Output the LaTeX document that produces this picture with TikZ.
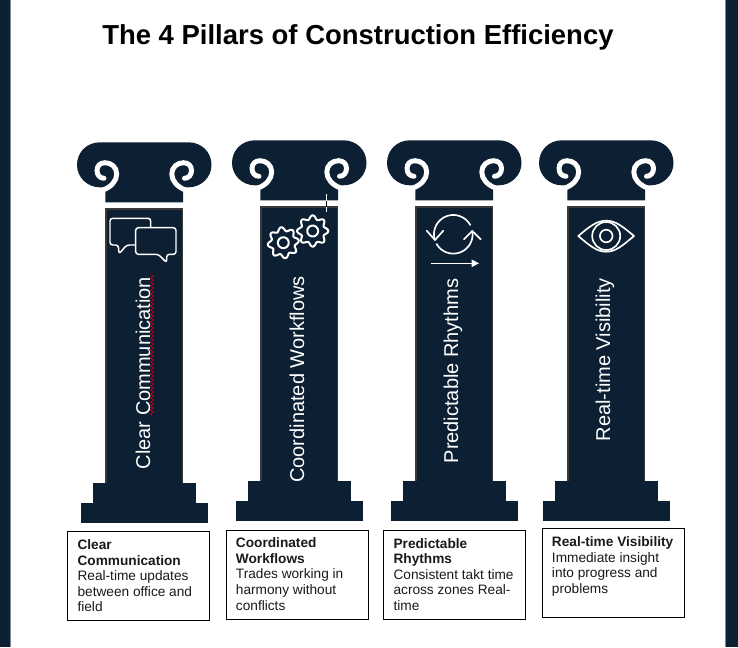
\documentclass[tikz,border=0pt]{standalone}
\usepackage{fontspec}
\setmainfont{Liberation Sans}
\usetikzlibrary{arrows.meta,decorations.pathmorphing}
\definecolor{navy}{HTML}{0D2033}
\definecolor{edgegray}{HTML}{7D8894}
\definecolor{shaftedge}{HTML}{3A3A3A}
\definecolor{bodytext}{HTML}{1A1A1A}
\definecolor{spell}{HTML}{C00010}
\tikzset{
  navyfill/.style={fill=navy,draw=none},
  volute/.style={draw=white,line width=3.7pt,line cap=round},
  iconline/.style={draw=white,line width=1.25pt,line join=round,line cap=round},
  pillarlabel/.style={white,rotate=90,anchor=base west,inner sep=0pt,font=\fontsize{15}{18}\selectfont},
  infobox/.style={draw=black,line width=0.8pt,fill=white,anchor=north west,inner sep=0pt,outer sep=0pt,minimum width=106.7pt,minimum height=#1},
  infotext/.style={anchor=north west,inner sep=0pt,align=left,text=bodytext,font=\fontsize{10.25}{11.7}\selectfont},
}
\newcommand{\pillarshape}[2]{%
\begin{scope}[shift={(#1,#2)}]
  \fill[navy] (105.3,202.3) -- (105.3,187.3) -- (100,187.3)
    .. controls (87,187.3) and (77,177) .. (77,165)
    .. controls (77,152) and (87,142.3) .. (100,142.3)
    -- (188.5,142.3)
    .. controls (201.5,142.3) and (211.5,152) .. (211.5,165)
    .. controls (211.5,177) and (201.5,187.3) .. (188.5,187.3)
    -- (183,187.3) -- (183,202.3) -- cycle;
  \draw[volute] (103,190)
    .. controls (111,187) and (116.7,181) .. (116.7,174)
    .. controls (116.7,167) and (111,162.7) .. (105,162.7)
    .. controls (100,162.7) and (97,166) .. (97,170.5)
    .. controls (97,175) and (100,178.3) .. (104,178.3);
  \draw[volute] (185.5,190)
    .. controls (177.5,187) and (171.8,181) .. (171.8,174)
    .. controls (171.8,167) and (177.5,162.7) .. (183.5,162.7)
    .. controls (188.5,162.7) and (191.5,166) .. (191.5,170.5)
    .. controls (191.5,175) and (188.5,178.3) .. (184.5,178.3);
  \fill[navy,draw=shaftedge,line width=0.9pt] (106,209) rectangle (182.3,483.5);
  \fill[navy] (93,483) rectangle (196,503);
  \fill[navy] (81,503) rectangle (208,523);
\end{scope}}
\newcommand{\geararc}[3]{%
  \draw[iconline,line width=1.5pt] plot[domain=0:360,samples=145,smooth]
    ({#1+(13.7+1.9*cos(8*(\x+#3)))*cos(\x)},{#2+(13.7+1.9*cos(8*(\x+#3)))*sin(\x)}) -- cycle;
  \draw[iconline,line width=1.5pt] plot[domain=0:360,samples=49,smooth]
    ({#1+5.4*cos(\x)},{#2+5.4*sin(\x)}) -- cycle;}
\begin{document}
\begin{tikzpicture}[x=0.75pt,y=-0.75pt]
\useasboundingbox (0,0) rectangle (738,647);
\fill[white] (0,0) rectangle (738,647);
% side bars
\fill[navy] (0,0) rectangle (11,647);
\fill[edgegray] (10.2,0) rectangle (11.4,647);
\fill[navy] (725.5,0) rectangle (738,647);
\fill[edgegray] (725,0) rectangle (726,647);
% title
\node[anchor=base west,inner sep=0pt,font=\bfseries\fontsize{20.6}{25}\selectfont,text=black] (title) at (102,44) {The 4 Pillars of Construction Efficiency};
% pillars
\pillarshape{0}{0}
\pillarshape{155}{-2}
\pillarshape{310}{-2}
\pillarshape{462}{-2}
% cursor mark
\coordinate (ca) at (326.6,194);
\coordinate (cb) at (326.6,200.5);
\coordinate (cc) at (326.6,206.5);
\coordinate (cd) at (326.6,211.7);
\draw[white,line width=0.8pt] (ca) -- (cb);
\draw[black,line width=0.8pt] (cb) -- (cc);
\draw[white,line width=0.8pt] (cc) -- (cd);
% chat icon
\draw[iconline,line width=1.1pt,rounded corners=2pt] (110,218.3) -- (150.7,218.3) -- (150.7,245) -- (126.7,245) -- (119,254) -- (118.3,245) -- (110,245) -- cycle;
\draw[iconline,fill=navy,line width=1.1pt,rounded corners=2pt] (135.7,227.7) -- (176,227.7) -- (176,254.3) -- (166.7,254.3) -- (166.7,262.7) -- (158.3,254.3) -- (135.7,254.3) -- cycle;
% gears
\geararc{283.3}{242.7}{8}
\geararc{312.7}{231}{0}
% sync icon
\draw[iconline] plot[domain=163:331,samples=40,smooth] ({453.3+19.3*cos(\x)},{234.3+19.3*sin(\x)});
\draw[iconline] plot[domain=-10:150,samples=40,smooth] ({453.3+19.3*cos(\x)},{234.3+19.3*sin(\x)});
\draw[iconline] (426.7,230.7) -- (435,240) -- (443.3,230.7);
\draw[iconline] (464,239.3) -- (472.3,231) -- (480.7,239.3);
\coordinate (flowstart) at (431,263.3);
\coordinate (flowend) at (479,263.3);
\draw[white,line width=0.85pt,-{Triangle[length=5.5pt,width=5.5pt]}] (flowstart) -- (flowend);
% eye icon
\begin{scope}
  \clip (578.3,236) .. controls (590,226) and (597,220.7) .. (606.2,220.7)
     .. controls (615.5,220.7) and (622,226) .. (634,236)
     .. controls (622,246) and (615.5,251.7) .. (606.2,251.7)
     .. controls (597,251.7) and (590,246) .. (578.3,236) -- cycle;
  \draw[iconline] (606.2,236) circle[radius=14];
\end{scope}
\draw[iconline] (578.3,236) .. controls (590,226) and (597,220.7) .. (606.2,220.7)
     .. controls (615.5,220.7) and (622,226) .. (634,236)
     .. controls (622,246) and (615.5,251.7) .. (606.2,251.7)
     .. controls (597,251.7) and (590,246) .. (578.3,236) -- cycle;
\draw[iconline] (606.2,236) circle[radius=6.3];
% pillar labels
\node[pillarlabel] (lab1) at (150,469.5) {Clear Communication};
\node[pillarlabel] (lab2) at (304,483) {Coordinated Workflows};
\node[pillarlabel] (lab3) at (458,463.5) {Predictable Rhythms};
\node[pillarlabel] (lab4) at (610,441.5) {Real-time Visibility};
% spelling mark
\coordinate (spa) at (152,415);
\coordinate (spb) at (152,275);
\draw[spell,line width=0.6pt,decorate,decoration={zigzag,segment length=3pt,amplitude=1pt}] (spa) -- (spb);
% boxes
\node[infobox=66.75pt] (box1) at (67.3,531.3) {};
\node[infobox=66.75pt] (box2) at (226.3,530.3) {};
\node[infobox=66.75pt] (box3) at (383.3,530.3) {};
\node[infobox=66.5pt] (box4) at (542.3,528.7) {};
\node[infotext] (text1) at (77.3,539.3) {\textbf{Clear}\\\textbf{Communication}\\Real-time updates\\between office and\\field};
\node[infotext] (text2) at (235.7,537.6) {\textbf{Coordinated}\\\textbf{Workflows}\\Trades working in\\harmony without\\conflicts};
\node[infotext] (text3) at (393.3,538) {\textbf{Predictable}\\\textbf{Rhythms}\\Consistent takt time\\across zones Real-\\time};
\node[infotext] (text4) at (551.7,536.3) {\textbf{Real-time Visibility}\\Immediate insight\\into progress and\\problems};
\end{tikzpicture}
\end{document}
